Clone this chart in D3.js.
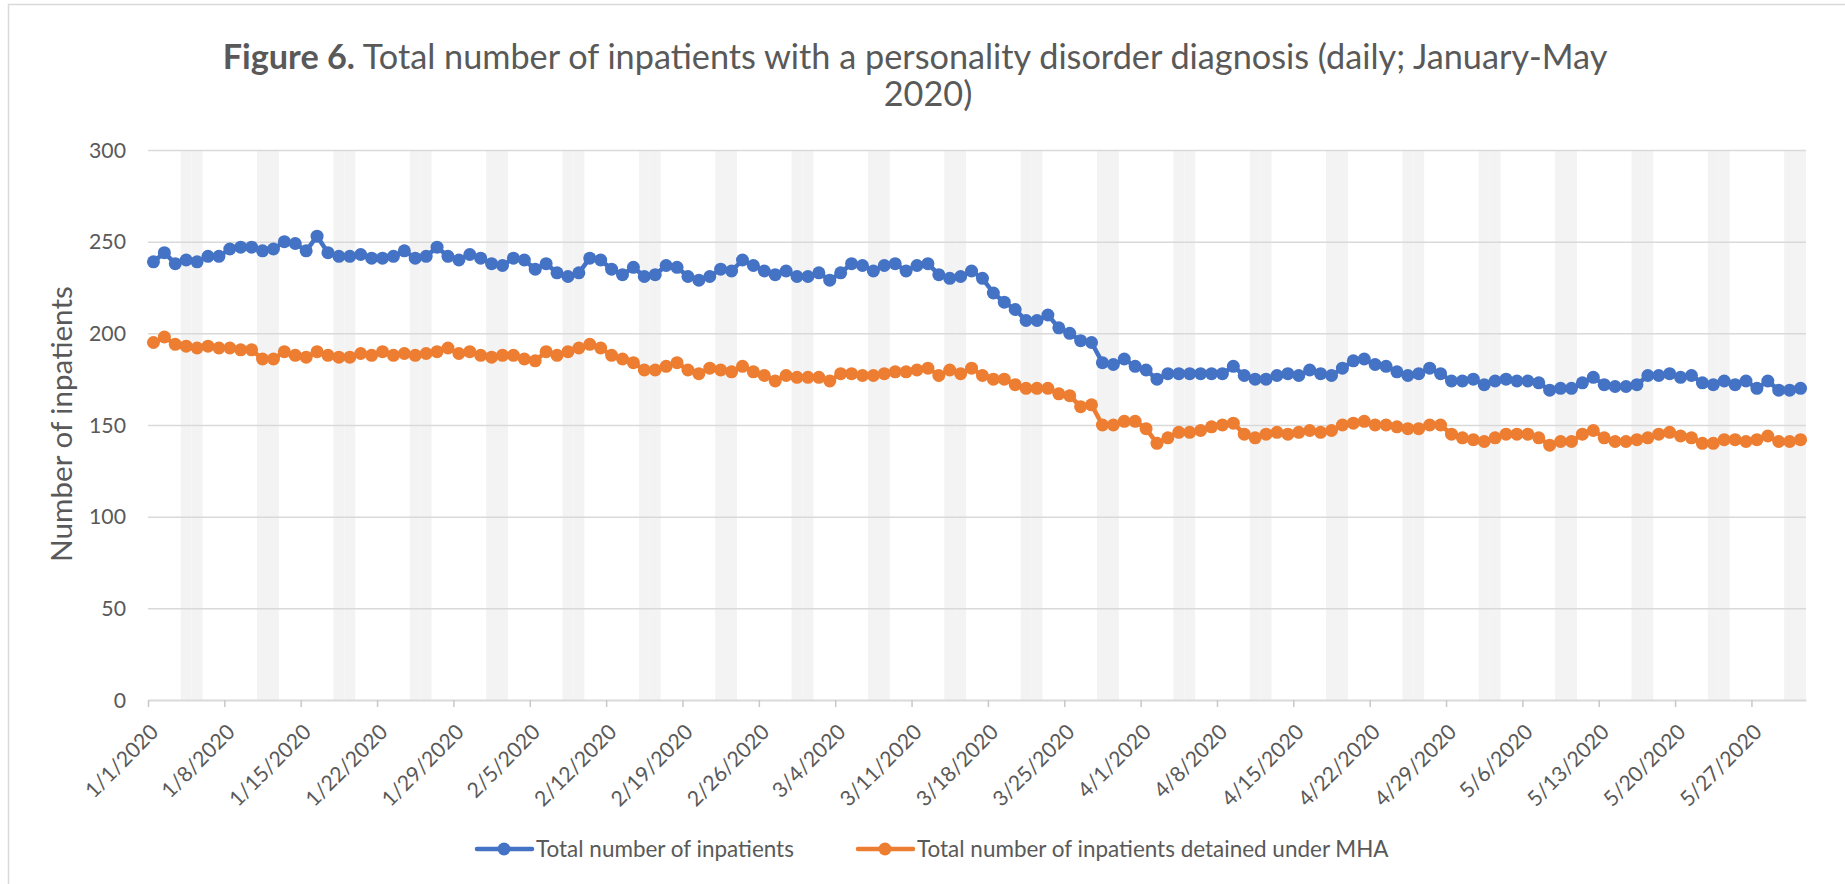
<!DOCTYPE html>
<html>
<head>
<meta charset="utf-8">
<script src="https://cdn.jsdelivr.net/npm/d3@7"></script>
<style>
  body { margin: 0; background: #fff; }
  text { font-family: Lato, "Open Sans", sans-serif; fill: #595959; }
</style>
</head>
<body>
<svg id="chart" width="1845" height="884"></svg>
<script>
// DATA
var startDate = "1/1/2020";
var endDate = "6/1/2020";

var inpatients = [
  239,244,238,240,239,242,242,246,247,247,245,246,250,249,245,253,244,242,242,243,241,241,242,245,241,242,
  247,242,240,243,241,238,237,241,240,235,238,233,231,233,241,240,235,232,236,231,232,237,236,231,229,231,
  235,234,240,237,234,232,234,231,231,233,229,233,238,237,234,237,238,234,237,238,232,230,231,234,230,222,
  217,213,207,207,210,203,200,196,195,184,183,186,182,180,175,178,178,178,178,178,178,182,177,175,175,
  177,178,177,180,178,177,181,185,186,183,182,179,177,178,181,178,174,174,175,172,174,175,174,174,173,169,
  170,170,173,176,172,171,171,172,177,177,178,176,177,173,172,174,172,174,170,174,169,169,170
];

var detained = [
  195,198,194,193,192,193,192,192,191,191,186,186,190,188,187,190,188,187,187,189,188,190,188,189,188,189,
  190,192,189,190,188,187,188,188,186,185,190,188,190,192,194,192,188,186,184,180,180,182,184,180,178,181,
  180,179,182,179,177,174,177,176,176,176,174,178,178,177,177,178,179,179,180,181,177,180,178,181,177,175,
  175,172,170,170,170,167,166,160,161,150,150,152,152,148,140,143,146,146,147,149,150,151,145,143,145,
  146,145,146,147,146,147,150,151,152,150,150,149,148,148,150,150,145,143,142,141,143,145,145,145,143,139,
  141,141,145,147,143,141,141,142,143,145,146,144,143,140,140,142,142,141,142,144,141,141,142
];

var tickLabels = ["1/1/2020","1/8/2020","1/15/2020","1/22/2020","1/29/2020","2/5/2020","2/12/2020",
  "2/19/2020","2/26/2020","3/4/2020","3/11/2020","3/18/2020","3/25/2020","4/1/2020","4/8/2020",
  "4/15/2020","4/22/2020","4/29/2020","5/6/2020","5/13/2020","5/20/2020","5/27/2020"];

var yTicks = [0, 50, 100, 150, 200, 250, 300];

var seriesNames = ["Total number of inpatients", "Total number of inpatients detained under MHA"];
var seriesColors = ["#4472C4", "#ED7D31"];

var titleBold = "Figure 6.";
var titleRest = " Total number of inpatients with a personality disorder diagnosis (daily; January-May";
var titleLine2 = "2020)";
var yTitle = "Number of inpatients";

// LAYOUT
var plotLeft = 148, plotRight = 1806, plotTop = 150, plotBottom = 700;

var parse = d3.utcParse("%m/%d/%Y");
var start = parse(startDate);
var end = parse(endDate);

var dates = inpatients.map(function (v, i) { return d3.utcDay.offset(start, i); });

var x = d3.scaleUtc().domain([start, end]).range([plotLeft, plotRight]);
var y = d3.scaleLinear().domain([0, 300]).range([plotBottom, plotTop]);

var svg = d3.select("#chart");

// set font size so the text takes the wanted width
function fit(sel, width) {
  sel.style("font-size", "20px");
  var w = sel.node().getComputedTextLength();
  var size = 20 * width / w;
  sel.style("font-size", size + "px");
  return size;
}

// OUTER BORDER
svg.append("rect")
  .attr("x", 8.5).attr("y", 4.5)
  .attr("width", 1860).attr("height", 900)
  .attr("fill", "none").attr("stroke", "#D9D9D9").attr("stroke-width", 1.5);

// WEEKEND BANDS
svg.append("g").selectAll("rect")
  .data(dates.filter(function (d) { return d.getUTCDay() == 0 || d.getUTCDay() == 6; }))
  .join("rect")
  .attr("x", function (d) { return x(d); })
  .attr("width", function (d) { return x(d3.utcDay.offset(d, 1)) - x(d); })
  .attr("y", y(300))
  .attr("height", y(0) - y(300))
  .attr("fill", "#F3F3F3");

// Y AXIS WITH GRIDLINES
var yAxis = svg.append("g")
  .attr("transform", "translate(" + plotLeft + ",0)")
  .call(d3.axisLeft(y).tickValues(yTicks).tickSize(-(plotRight - plotLeft)).tickPadding(22));
yAxis.attr("font-family", null);
yAxis.select(".domain").remove();
yAxis.selectAll(".tick line")
  .attr("stroke", "#D9D9D9").attr("stroke-width", 1.5)
  .filter(function (d) { return d == 0; }).remove();
yAxis.selectAll(".tick text").attr("fill", "#595959").attr("dy", "0.34em");
var tickSize = fit(yAxis.selectAll(".tick text").filter(function (d) { return d == 300; }), 37);
yAxis.selectAll(".tick text").style("font-size", tickSize + "px");

// X AXIS
var xAxis = svg.append("g")
  .attr("transform", "translate(0," + plotBottom + ")")
  .call(d3.axisBottom(x)
    .tickValues(tickLabels.map(parse))
    .tickFormat(d3.utcFormat("%-m/%-d/%Y"))
    .tickSizeInner(7).tickSizeOuter(0));
xAxis.attr("font-family", null);
xAxis.select(".domain").attr("stroke", "#D9D9D9").attr("stroke-width", 2);
xAxis.selectAll(".tick line").attr("stroke", "#C8C8C8").attr("stroke-width", 1.5);
xAxis.selectAll(".tick text")
  .attr("fill", "#595959")
  .attr("x", 0).attr("y", 0).attr("dy", "0.75em")
  .attr("transform", "translate(0,22) rotate(-45)")
  .style("text-anchor", "end")
  .style("font-size", tickSize + "px");

// SERIES
[inpatients, detained].forEach(function (values, k) {
  var pts = values.map(function (v, i) { return [x(d3.utcHour.offset(dates[i], 12)), y(v)]; });
  svg.append("path")
    .attr("d", d3.line()(pts))
    .attr("fill", "none")
    .attr("stroke", seriesColors[k])
    .attr("stroke-width", 4.5)
    .attr("stroke-linejoin", "round");
  svg.append("g").selectAll("circle")
    .data(pts)
    .join("circle")
    .attr("cx", function (p) { return p[0]; })
    .attr("cy", function (p) { return p[1]; })
    .attr("r", 6.5)
    .attr("fill", seriesColors[k]);
});

// TITLE
var t1 = svg.append("text")
  .attr("x", 915).attr("y", 69)
  .attr("text-anchor", "middle");
t1.append("tspan").attr("font-weight", "bold").text(titleBold);
t1.append("tspan").text(titleRest);
var titleSize = fit(t1, 1385);
svg.append("text")
  .attr("x", 928).attr("y", 106)
  .attr("text-anchor", "middle")
  .style("font-size", titleSize + "px")
  .text(titleLine2);

// Y TITLE
var yt = svg.append("text")
  .attr("transform", "translate(72,424) rotate(-90)")
  .attr("text-anchor", "middle")
  .text(yTitle);
fit(yt, 276);

// LEGEND
var legendX = [477, 858];
var legendSize;
seriesNames.forEach(function (name, k) {
  var g = svg.append("g").attr("transform", "translate(" + legendX[k] + ",849)");
  g.append("line")
    .attr("x1", 0).attr("x2", 55)
    .attr("stroke", seriesColors[k]).attr("stroke-width", 4.5)
    .attr("stroke-linecap", "round");
  g.append("circle").attr("cx", 27).attr("r", 6.5).attr("fill", seriesColors[k]);
  var lt = g.append("text").attr("x", 59).attr("dy", "0.35em").text(name);
  if (k == 0) legendSize = fit(lt, 258);
  else lt.style("font-size", legendSize + "px");
});
</script>
</body>
</html>
